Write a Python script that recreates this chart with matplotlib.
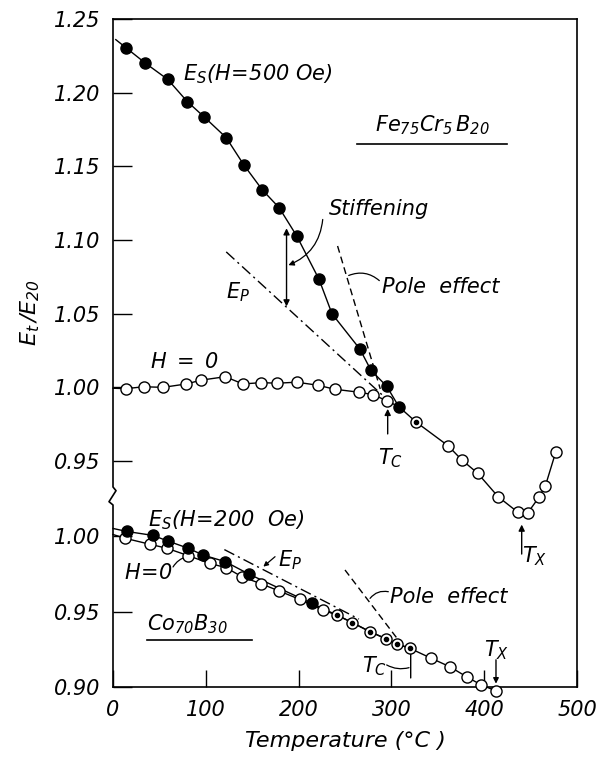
import matplotlib
matplotlib.use("Agg")
import matplotlib.pyplot as plt

plt.rcParams['font.family'] = ['DejaVu Sans']
plt.rcParams['font.style'] = 'italic'
plt.rcParams['mathtext.fontset'] = 'custom'
plt.rcParams['mathtext.rm'] = 'DejaVu Sans:italic'
plt.rcParams['mathtext.it'] = 'DejaVu Sans:italic'
plt.rcParams['mathtext.sf'] = 'DejaVu Sans:italic'
plt.rcParams['mathtext.default'] = 'it'

# ---------------- Fe75Cr5B20 (upper part) ----------------
fe_es_T = [14, 35, 59, 80, 98, 122, 141, 161, 179, 198, 222, 236, 266, 278, 295]
fe_es_v = [1.2305, 1.220, 1.209, 1.194, 1.1837, 1.1695, 1.151, 1.134, 1.122,
           1.1028, 1.0734, 1.050, 1.0261, 1.0117, 1.0008]
fe_es_start_T, fe_es_start_v = [3], [1.236]

fe_h0_T = [14, 33, 54, 79, 95, 121, 140, 160, 177, 198, 221, 239, 265, 280, 295]
fe_h0_v = [0.9992, 1.0005, 1.0001, 1.0024, 1.005, 1.0073, 1.0024, 1.0033, 1.0029,
           1.0036, 1.0015, 0.9988, 0.9968, 0.9952, 0.991]
fe_h0_start_T, fe_h0_start_v = [0], [0.9995]

fe_tail_filled_T, fe_tail_filled_v = [308], [0.987]
fe_tail_dot_T, fe_tail_dot_v = [326.5], [0.9766]
fe_tail_open_T = [361, 376, 393, 415, 436, 447, 459, 466, 477]
fe_tail_open_v = [0.9605, 0.9508, 0.9418, 0.9259, 0.9155, 0.915, 0.9255, 0.9334, 0.956]

fe_ep_T, fe_ep_v = [122, 290], [1.092, 0.995]
fe_pole_T, fe_pole_v = [242, 288], [1.096, 0.999]

# ---------------- Co70B30 (lower part) ----------------
co_es_T = [15, 43, 59, 81, 97, 121, 147, 214]
co_es_v = [1.0030, 1.0004, 0.9967, 0.9919, 0.9874, 0.983, 0.9746, 0.9554]
co_es_start_T, co_es_start_v = [0], [1.005]

co_h0_T = [13, 40, 58, 81, 104, 122, 139, 159, 179, 201, 226]
co_h0_v = [0.9985, 0.9945, 0.9919, 0.987, 0.9819, 0.979, 0.973, 0.9685, 0.9636,
           0.9581, 0.951]
co_h0_start_T, co_h0_start_v = [0], [1.001]

co_dot_T = [241, 258, 277, 294, 306, 320]
co_dot_v = [0.9477, 0.9426, 0.9366, 0.932, 0.9285, 0.9256]
co_tail_T = [343, 363, 381, 397, 413]
co_tail_v = [0.919, 0.9134, 0.9068, 0.9013, 0.8974]

co_ep_T, co_ep_v = [120, 265], [0.991, 0.945]
co_pole_T, co_pole_v = [250, 307.5], [0.9775, 0.9311]

x_ticks = [0, 100, 200, 300, 400, 500]
top_yticks = [0.95, 1.00, 1.05, 1.10, 1.15, 1.20, 1.25]
bot_yticks = [0.90, 0.95, 1.00]

FS = 15
fig = plt.figure(figsize=(6.03, 7.62), dpi=100)
pos = [113/603, 75/762, 464/603, 668/762]
axb = fig.add_axes(pos)
axt = fig.add_axes(pos, sharex=axb)
axt.patch.set_alpha(0)

axb.set_xlim(0, 500)
axb.set_ylim(0.90, 1.3424)
axt.set_ylim(0.7968, 1.25)

for a in (axb, axt):
    a.spines['left'].set_visible(False)
for s in axt.spines.values():
    s.set_visible(False)
for s in ('top', 'right', 'bottom'):
    axb.spines[s].set_linewidth(1.2)

# left spine with break mark
bx = [0, 0, 0.0065, -0.0086, 0, 0]
by = [1, 0.2994, 0.2939, 0.2774, 0.2725, 0]
axb.plot(bx, by, color='black', lw=1.2, transform=axb.transAxes, clip_on=False, zorder=5)

axb.set_xticks(x_ticks)
axb.set_xticklabels([str(t) for t in x_ticks])
axb.tick_params(axis='x', direction='in', length=12, width=1.0, pad=9, labelsize=FS)
axb.set_yticks(bot_yticks)
axb.set_yticklabels([f"{t:.2f}" for t in bot_yticks])
axb.tick_params(axis='y', direction='in', length=13.5, width=1.0, pad=9, labelsize=FS)
axt.set_yticks(top_yticks)
axt.set_yticklabels([f"{t:.2f}" for t in top_yticks])
axt.tick_params(axis='y', direction='in', length=13.5, width=1.0, pad=9, labelsize=FS)
axt.tick_params(axis='x', bottom=False, labelbottom=False)

axb.set_xlabel("Temperature (°C )", fontsize=16, labelpad=8)
fig.text(30/603, 1 - 313/762, r"$E_t\,/E_{20}$", rotation=90, ha='center', va='center', fontsize=16)

LW = 1.0
MS = 8
def filled(ax, T, v):
    ax.plot(T, v, 'o', ms=MS, mfc='black', mec='black', mew=1.0, ls='none', zorder=4, clip_on=False)
def opened(ax, T, v):
    ax.plot(T, v, 'o', ms=MS, mfc='white', mec='black', mew=1.0, ls='none', zorder=4, clip_on=False)
def dotted(ax, T, v):
    opened(ax, T, v)
    ax.plot(T, v, 'o', ms=3, mfc='black', mec='black', ls='none', zorder=5, clip_on=False)

# ---- upper lines
axt.plot(fe_es_start_T + fe_es_T + fe_tail_filled_T, fe_es_start_v + fe_es_v + fe_tail_filled_v,
         color='black', lw=LW, zorder=2, clip_on=False)
axt.plot(fe_h0_start_T + fe_h0_T + fe_tail_filled_T, fe_h0_start_v + fe_h0_v + fe_tail_filled_v,
         color='black', lw=LW, zorder=2, clip_on=False)
axt.plot(fe_tail_filled_T + fe_tail_dot_T + fe_tail_open_T,
         fe_tail_filled_v + fe_tail_dot_v + fe_tail_open_v, color='black', lw=LW, zorder=2, clip_on=False)
axt.plot(fe_ep_T, fe_ep_v, color='black', lw=LW, ls=(0, (8, 3, 1.5, 3)), zorder=2)
axt.plot(fe_pole_T, fe_pole_v, color='black', lw=LW, ls=(0, (5, 3)), zorder=2)
filled(axt, fe_es_T, fe_es_v)
opened(axt, fe_h0_T, fe_h0_v)
filled(axt, fe_tail_filled_T, fe_tail_filled_v)
dotted(axt, fe_tail_dot_T, fe_tail_dot_v)
opened(axt, fe_tail_open_T, fe_tail_open_v)

# ---- lower lines
axb.plot(co_es_start_T + co_es_T + co_dot_T + co_tail_T, co_es_start_v + co_es_v + co_dot_v + co_tail_v,
         color='black', lw=LW, zorder=2, clip_on=False)
axb.plot(co_h0_start_T + co_h0_T + co_dot_T, co_h0_start_v + co_h0_v + co_dot_v,
         color='black', lw=LW, zorder=2, clip_on=False)
axb.plot(co_ep_T, co_ep_v, color='black', lw=LW, ls=(0, (8, 3, 1.5, 3)), zorder=2)
axb.plot(co_pole_T, co_pole_v, color='black', lw=LW, ls=(0, (5, 3)), zorder=2)
opened(axb, co_h0_T, co_h0_v)
filled(axb, co_es_T, co_es_v)
dotted(axb, co_dot_T, co_dot_v)
opened(axb, co_tail_T, co_tail_v)

# ---- annotations upper
axt.text(75, 1.2086, r"$E_S(H\!=\!500\ Oe)$", fontsize=FS, ha='left', va='baseline')
axt.text(343.6, 1.1735, r"$Fe_{75}Cr_5\,B_{20}$", fontsize=FS, ha='center', va='baseline')
axt.plot([262.6, 424.2], [1.1652, 1.1652], color='black', lw=1.2)
axt.text(233, 1.117, "Stiffening", fontsize=FS, ha='left', va='baseline')
axt.annotate("", xy=(189, 1.083), xytext=(226, 1.114),
             arrowprops=dict(arrowstyle='-|>', lw=0.9, color='black', mutation_scale=8,
                             connectionstyle='arc3,rad=-0.3', shrinkA=0, shrinkB=0))
axt.annotate("", xy=(187, 1.108), xytext=(187, 1.055),
             arrowprops=dict(arrowstyle='<|-|>', lw=1.0, color='black', mutation_scale=9,
                             shrinkA=0, shrinkB=0))
axt.text(134.7, 1.0648, r"$E_P$", fontsize=FS, ha='center', va='center')
axt.text(290, 1.0641, "Pole  effect", fontsize=FS, ha='left', va='baseline')
axt.annotate("", xy=(254, 1.076), xytext=(287, 1.0725),
             arrowprops=dict(arrowstyle='-', lw=0.9, color='black',
                             connectionstyle='arc3,rad=0.3', shrinkA=0, shrinkB=0))
axt.text(77.6, 1.0176, r"$H\ =\ 0$", fontsize=FS, ha='center', va='center')
axt.text(298.5, 0.9522, r"$T_C$", fontsize=FS, ha='center', va='center')
axt.annotate("", xy=(296, 0.9855), xytext=(296, 0.9685),
             arrowprops=dict(arrowstyle='-|>', lw=1.0, color='black', mutation_scale=9,
                             shrinkA=0, shrinkB=0))
axt.text(454.7, 0.8857, r"$T_X$", fontsize=FS, ha='center', va='center')
axt.annotate("", xy=(440.4, 0.907), xytext=(440.4, 0.887),
             arrowprops=dict(arrowstyle='-|>', lw=1.0, color='black', mutation_scale=9,
                             shrinkA=0, shrinkB=0))

# ---- annotations lower
axb.text(37.7, 1.0062, r"$E_S(H\!=\!200\ \ Oe)$", fontsize=FS, ha='left', va='baseline')
axb.text(38.3, 0.9758, r"$H\!=\!0$", fontsize=FS, ha='center', va='center')
axb.annotate("", xy=(79.4, 0.9863), xytext=(64.7, 0.9795),
             arrowprops=dict(arrowstyle='-', lw=0.9, color='black', shrinkA=0, shrinkB=0,
                             connectionstyle='arc3,rad=-0.2'))
axb.text(190.7, 0.9841, r"$E_P$", fontsize=FS, ha='center', va='center')
axb.annotate("", xy=(162, 0.9797), xytext=(174.6, 0.9863),
             arrowprops=dict(arrowstyle='-|>', lw=0.9, color='black', mutation_scale=7,
                             shrinkA=0, shrinkB=0))
axb.text(298.5, 0.9596, "Pole  effect", fontsize=FS, ha='left', va='center')
axb.annotate("", xy=(277, 0.9587), xytext=(296.7, 0.9631),
             arrowprops=dict(arrowstyle='-', lw=0.9, color='black', shrinkA=0, shrinkB=0,
                             connectionstyle='arc3,rad=0.3'))
axb.text(36.3, 0.9377, r"$Co_{70}B_{30}$", fontsize=FS, ha='left', va='baseline')
axb.plot([36.3, 149.8], [0.9311, 0.9311], color='black', lw=1.2)
axb.text(282, 0.9139, r"$T_C$", fontsize=FS, ha='center', va='center')
axb.annotate("", xy=(319, 0.9128), xytext=(294.9, 0.9146),
             arrowprops=dict(arrowstyle='-', lw=0.9, color='black', shrinkA=0, shrinkB=0,
                             connectionstyle='arc3,rad=0.2'))
axb.annotate("", xy=(320.8, 0.9265), xytext=(320.8, 0.906),
             arrowprops=dict(arrowstyle='-|>', lw=1.0, color='black', mutation_scale=8,
                             shrinkA=0, shrinkB=0))
axb.text(413.8, 0.9245, r"$T_X$", fontsize=FS, ha='center', va='center')
axb.annotate("", xy=(412.7, 0.9022), xytext=(412.7, 0.918),
             arrowprops=dict(arrowstyle='-|>', lw=1.0, color='black', mutation_scale=8,
                             shrinkA=0, shrinkB=0))

fig.savefig("out.png", dpi=100)
